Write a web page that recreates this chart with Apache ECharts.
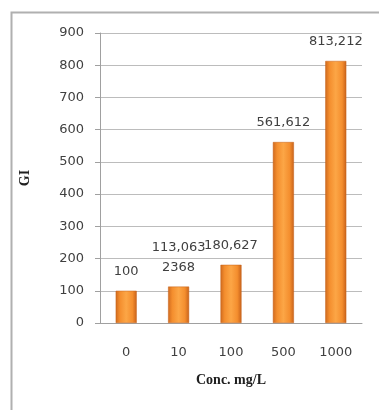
<!DOCTYPE html>
<html>
<head>
<meta charset="utf-8">
<script src="https://cdn.jsdelivr.net/npm/echarts@6/dist/echarts.min.js"></script>
<style>html,body{margin:0;padding:0;background:#fff;}#c{width:379px;height:410px;}</style>
</head>
<body>
<div id="c"></div>
<script>
var categories = ['0', '10', '100', '500', '1000'];
var values = [100, 113.0632368, 180.627, 561.612, 813.212];
var valueLabels = ['100', '113,063\n2368', '180,627', '561,612', '813,212'];
var yTicks = [0, 100, 200, 300, 400, 500, 600, 700, 800, 900];

var chart = echarts.init(document.getElementById('c'));
var font = 'DejaVu Sans';
chart.setOption({
  animation: false,
  backgroundColor: '#ffffff',
  graphic: [{
    type: 'rect', left: 9, top: 10,
    shape: { width: 420, height: 420 },
    style: { fill: 'none', stroke: '#b0b0b0', lineWidth: 2 }
  }],
  grid: { left: 100, right: 17, top: 33, bottom: 87 },
  xAxis: {
    type: 'category', data: categories,
    name: 'Conc. mg/L', nameLocation: 'middle', nameGap: 50,
    nameTextStyle: { fontFamily: 'Liberation Serif', fontWeight: 'bold', fontSize: 14, color: '#202020' },
    axisLine: { lineStyle: { color: '#a0a0a0' } },
    axisTick: { length: 5, lineStyle: { color: '#a0a0a0' } },
    axisLabel: { margin: 23, fontFamily: font, fontSize: 13, color: '#404040' }
  },
  yAxis: {
    type: 'value', min: yTicks[0], max: yTicks[yTicks.length - 1], interval: 100,
    name: 'GI', nameLocation: 'middle', nameGap: 68,
    nameTextStyle: { fontFamily: 'Liberation Serif', fontWeight: 'bold', fontSize: 14, color: '#202020' },
    axisLine: { show: true, lineStyle: { color: '#a0a0a0' } },
    axisTick: { show: true, length: 5, lineStyle: { color: '#a0a0a0' } },
    axisLabel: { margin: 16, fontFamily: font, fontSize: 13, color: '#404040' },
    splitLine: { lineStyle: { color: '#bcbcbc' } }
  },
  series: [{
    type: 'bar',
    data: values,
    barWidth: 21,
    itemStyle: {
      color: new echarts.graphic.LinearGradient(0, 0, 1, 0, [
        { offset: 0, color: '#d06a1e' },
        { offset: 0.2, color: '#f48e2e' },
        { offset: 0.5, color: '#fca646' },
        { offset: 0.8, color: '#f48e2e' },
        { offset: 1, color: '#c8621a' }
      ]),
      borderColor: '#c46018', borderWidth: 0.5
    },
    label: {
      show: true, position: 'top', distance: 9,
      fontFamily: font, fontSize: 13, color: '#404040', lineHeight: 20,
      formatter: function (p) { return valueLabels[p.dataIndex]; }
    }
  }]
});
</script>
</body>
</html>
